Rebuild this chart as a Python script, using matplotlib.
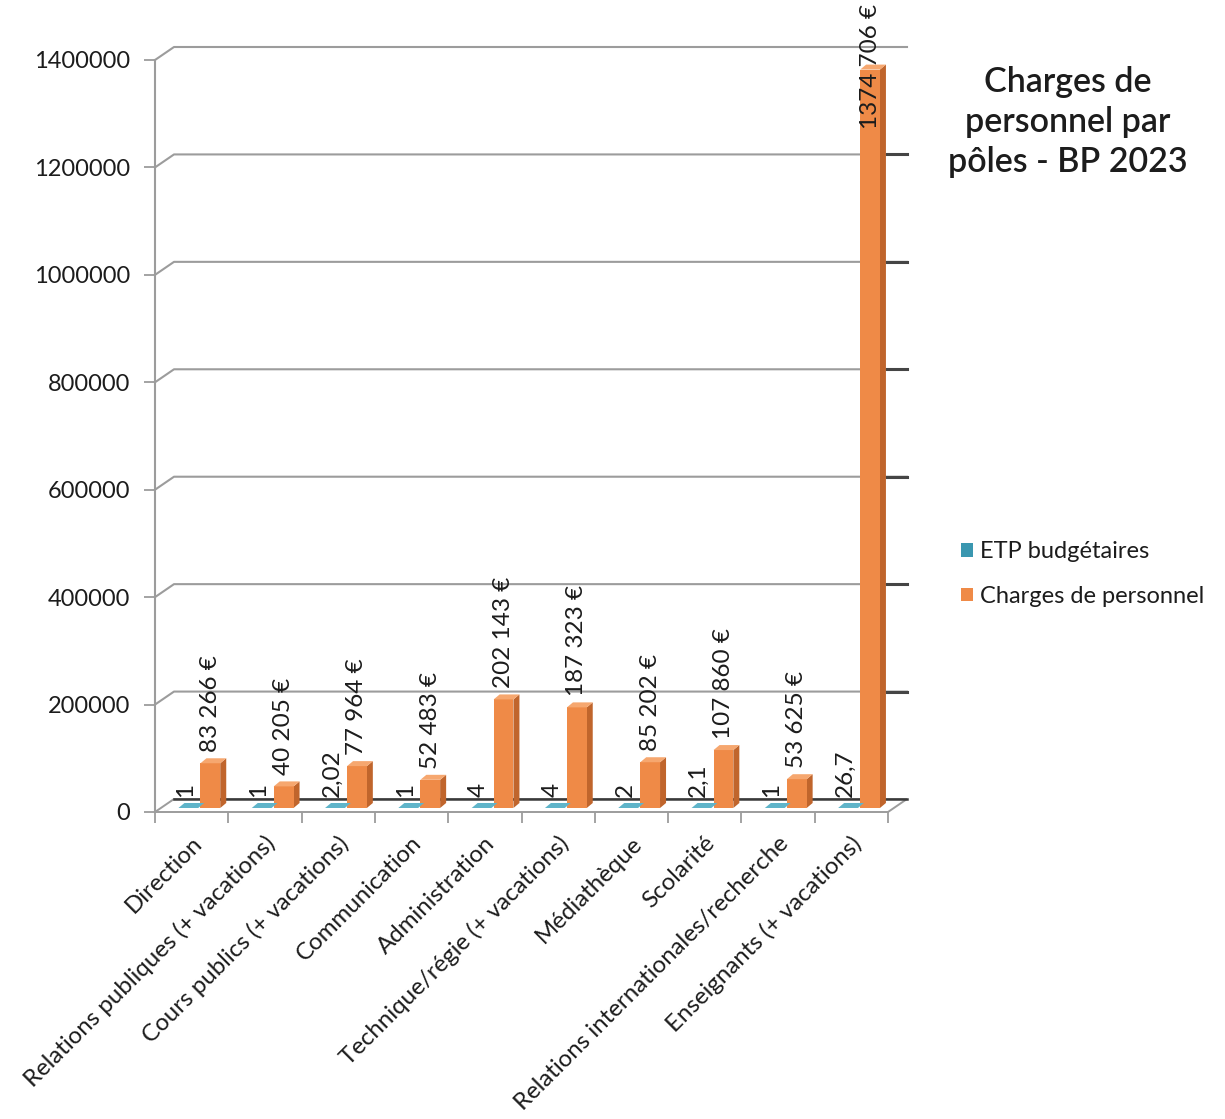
import matplotlib
matplotlib.use("Agg")
import matplotlib.pyplot as plt
from matplotlib.patches import Polygon
from matplotlib.transforms import ScaledTranslation

plt.rcParams['font.family'] = ['Lato', 'DejaVu Sans']

# ---- data ----
categories = [
    "Direction",
    "Relations publiques (+ vacations)",
    "Cours publics (+ vacations)",
    "Communication",
    "Administration",
    "Technique/régie (+ vacations)",
    "Médiathèque",
    "Scolarité",
    "Relations internationales/recherche",
    "Enseignants (+ vacations)",
]
etp = [1, 1, 2.02, 1, 4, 4, 2, 2.1, 1, 26.7]
charges = [83266, 40205, 77964, 52483, 202143, 187323, 85202, 107860, 53625, 1374706]
y_ticks = [0, 200000, 400000, 600000, 800000, 1000000, 1200000, 1400000]
series_names = ["ETP budgétaires", "Charges de personnel"]
title = "Charges de\npersonnel par\npôles - BP 2023"

# ---- figure geometry (pixels) ----
W, H, DPI = 1225, 1119, 100
L, R, B, T = 155, 888, 812, 60
fig = plt.figure(figsize=(W / DPI, H / DPI), dpi=DPI)
ax = fig.add_axes([L / W, 1 - B / H, (R - L) / W, (B - T) / H])
n = len(categories)
ymax = y_ticks[-1]
ax.set_xlim(0, n)
ax.set_ylim(0, ymax)

ux = n / (R - L)        # data units per pixel (x)
uy = ymax / (B - T)     # data units per pixel (y)
DX, DY = 19 * ux, 13 * uy          # depth of the back wall
BDX, BDY = 6 * ux, 5 * uy          # depth of each bar

GRID = "#9c9c9c"
TEXT = "#1c1c1c"
TEAL, TEAL_TOP = "#3a97b0", "#5fb4c9"
ORANGE, ORANGE_SIDE, ORANGE_TOP = "#ef8a47", "#c0652c", "#f6a76f"

# floor
floor = Polygon([(0, 0), (n, 0), (n + DX, DY), (DX, DY)], closed=True,
                facecolor="white", edgecolor=GRID, lw=1.4, zorder=1, clip_on=False)
ax.add_patch(floor)
ax.plot([DX, n + DX], [DY, DY], color="#3a3a3a", lw=1.8, zorder=1.5, clip_on=False)

# back-wall gridlines (with the side-wall diagonal)
for v in y_ticks[1:]:
    ax.plot([0, DX, n + DX], [v, v + DY, v + DY], color=GRID, lw=1.5,
            zorder=1, clip_on=False)
    if v < ymax:
        ax.plot([n + DX - 0.27, n + DX], [v + DY, v + DY], color="#454545",
                lw=2.2, zorder=1.2, clip_on=False)

# bars sit slightly back from the front edge of the floor
bar_tr = ax.transData + ScaledTranslation(0, 4 / DPI, fig.dpi_scale_trans)
width = 0.27
x_etp = [i + 0.455 for i in range(n)]
x_chg = [i + 0.755 for i in range(n)]


def draw_bar(xc, v, front, side, top, label=None):
    x0, x1 = xc - width / 2, xc + width / 2
    rect = ax.bar(xc, v, width=width, color=front, transform=bar_tr,
                  zorder=3, clip_on=False, label=label, linewidth=0)
    ax.add_patch(Polygon([(x1, 0), (x1 + BDX, BDY), (x1 + BDX, v + BDY), (x1, v)],
                         closed=True, facecolor=side, lw=0, transform=bar_tr,
                         zorder=2.9, clip_on=False))
    ax.add_patch(Polygon([(x0, v), (x1, v), (x1 + BDX, v + BDY), (x0 + BDX, v + BDY)],
                         closed=True, facecolor=top, lw=0, transform=bar_tr,
                         zorder=3.1, clip_on=False))
    return rect


h_etp = h_chg = None
for i in range(n):
    r1 = draw_bar(x_etp[i], etp[i], TEAL, "#2b7a8f", TEAL_TOP,
                  label=series_names[0] if i == 0 else None)
    r2 = draw_bar(x_chg[i], charges[i], ORANGE, ORANGE_SIDE, ORANGE_TOP,
                  label=series_names[1] if i == 0 else None)
    if i == 0:
        h_etp, h_chg = r1, r2


def fmt_etp(v):
    return f"{v:g}".replace(".", ",")


def fmt_eur(v):
    return f"{v // 1000} {v % 1000:03d} €"


LABEL_FS = 17.5
for i in range(n):
    ax.annotate(fmt_etp(etp[i]), xy=(x_etp[i] - 0.04, etp[i]), xycoords=bar_tr,
                xytext=(0, 8), textcoords="offset points", rotation=90,
                ha="center", va="bottom", fontsize=LABEL_FS, color=TEXT,
                zorder=5, annotation_clip=False)
    if charges[i] > 0.9 * ymax:
        # too tall to sit above the bar: hang it from the top of the figure
        ax.annotate(fmt_eur(charges[i]), xy=(x_chg[i], H - 4),
                    xycoords=("data", "figure pixels"), rotation=90,
                    ha="center", va="top", fontsize=LABEL_FS, color=TEXT,
                    zorder=5, annotation_clip=False)
    else:
        ax.annotate(fmt_eur(charges[i]), xy=(x_chg[i], charges[i]), xycoords=bar_tr,
                    xytext=(0, 8), textcoords="offset points", rotation=90,
                    ha="center", va="bottom", fontsize=LABEL_FS, color=TEXT,
                    zorder=5, annotation_clip=False)

# axes styling
for s in ["top", "right", "bottom"]:
    ax.spines[s].set_visible(False)
ax.spines["left"].set_color(GRID)
ax.spines["left"].set_linewidth(1.5)
ax.set_yticks(y_ticks)
ax.set_yticklabels([str(v) for v in y_ticks])
ax.tick_params(axis="y", length=8, width=1.3, color=GRID, pad=10,
               labelsize=17, labelcolor=TEXT)

ax.set_xticks(range(n + 1), minor=True)
ax.tick_params(axis="x", which="minor", length=8, width=1.3, color=GRID,
               direction="out")
ax.set_xticks([])
for i, name in enumerate(categories):
    ax.annotate(name, xy=(i + 0.5, 0), xycoords="data",
                xytext=(5, -20), textcoords="offset points",
                rotation=45, rotation_mode="anchor", ha="right", va="center",
                fontsize=17.3, color=TEXT, annotation_clip=False)

fig.text(1068 / W, 1 - 122 / H, title, ha="center", va="center",
         fontsize=24.5, fontweight="semibold", color=TEXT, linespacing=1.3)

fig.legend(handles=[h_etp, h_chg], labels=series_names,
           loc="center left", bbox_to_anchor=(961 / W, 1 - 574 / H),
           bbox_transform=fig.transFigure, frameon=False, fontsize=17,
           handlelength=0.5, handleheight=0.5, handletextpad=0.3,
           labelspacing=1.0, borderpad=0, borderaxespad=0, labelcolor=TEXT)

fig.savefig("out.png", dpi=DPI, facecolor="white")
